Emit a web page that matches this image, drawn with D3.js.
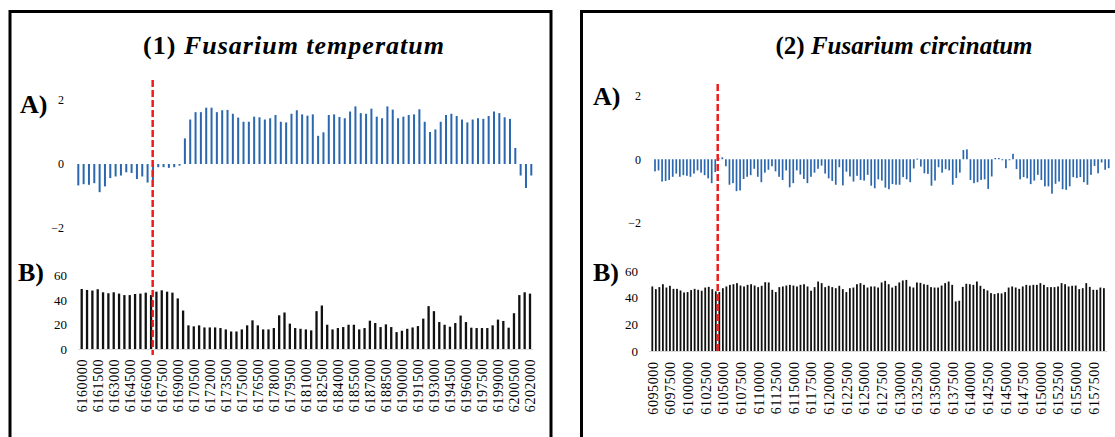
<!DOCTYPE html>
<html>
<head>
<meta charset="utf-8">
<script src="https://cdn.jsdelivr.net/npm/d3@7"></script>
<style>
  body { margin: 0; background: #fff; }
  text { font-family: "Liberation Serif", "Times New Roman", serif; fill: #000; }
</style>
</head>
<body>
<div id="chart"></div>
<script>
// Pannello (1) Fusarium temperatum
const leftPositions = d3.range(6160000, 6202001, 500);
const leftTicks = [6160000, 6161500, 6163000, 6164500, 6166000, 6167500, 6169000, 6170500, 6172000, 6173500,
  6175000, 6176500, 6178000, 6179500, 6181000, 6182500, 6184000, 6185500, 6187000, 6188500, 6190000,
  6191500, 6193000, 6194500, 6196000, 6197500, 6199000, 6200500, 6202000];
const leftA = [-0.67, -0.63, -0.65, -0.6, -0.88, -0.7, -0.44, -0.39, -0.36, -0.26, -0.28, -0.47, -0.39, -0.58, -0.52,
  -0.1, -0.1, -0.12, -0.1, -0.05,
  0.8, 1.39, 1.62, 1.62, 1.76, 1.76, 1.62, 1.68, 1.69, 1.57, 1.45, 1.32, 1.32,
  1.48, 1.46, 1.39, 1.43, 1.53, 1.32, 1.3, 1.57, 1.68, 1.55, 1.51, 1.55, 0.88, 0.99, 1.53, 1.55, 1.47, 1.43,
  1.64, 1.8, 1.59, 1.57, 1.73, 1.48, 1.43, 1.8, 1.7, 1.43,
  1.48, 1.53, 1.55, 1.71, 1.32, 1.0, 1.08, 1.32, 1.53, 1.57, 1.5, 1.39, 1.3, 1.39, 1.43, 1.41, 1.5, 1.64,
  1.59, 1.46, 1.41, 0.5, -0.36, -0.75, -0.36];
const leftB = [49, 48.2, 47.7, 48.8, 46.3, 45.5, 46.3, 45.2, 44, 44, 44.9, 45.2, 46, 44, 46.8, 47.9, 46.8, 46,
  41.3, 31.4, 19.3, 18.5, 19.3, 17.6, 17.6, 17.6, 17.1, 16, 14.3, 14.3, 16, 19.3, 23.4, 19.3, 16, 16, 17.1,
  27.5, 29.8, 20.7, 17.1, 16.5, 16, 15.2, 30.9, 35.5, 19.8, 16, 17.1, 17.9, 19.8, 19.8, 16, 17.1, 23.1, 21.2,
  17.9, 20.1, 17.9, 13.8, 14.9, 16.5, 17.6, 18.7, 24.8, 35, 30.9, 22, 19.8, 18.2, 21.2, 27.3, 22, 17.4, 17.1,
  17.1, 17.1, 19.3, 24, 22.9, 17.4, 29.2, 44, 46.3, 45.2];
const leftMarker = 6166650;

// Pannello (2) Fusarium circinatum
const rightPositions = d3.range(6095000, 6159001, 500);
const rightTicks = [6095000, 6097500, 6100000, 6102500, 6105000, 6107500, 6110000, 6112500, 6115000, 6117500,
  6120000, 6122500, 6125000, 6127500, 6130000, 6132500, 6135000, 6137500, 6140000, 6142500, 6145000,
  6147500, 6150000, 6152500, 6155000, 6157500];
const rightA = [-0.38, -0.35, -0.7, -0.68, -0.65, -0.55, -0.45, -0.55, -0.5, -0.52,
  -0.55, -0.45, -0.35, -0.42, -0.5, -0.6, -0.75, -0.4, 0.03, 0.06,
  -0.22, -0.8, -0.75, -1.0, -0.98, -0.62, -0.55, -0.5, -0.3, -0.55,
  -0.72, -0.42, -0.33, -0.22, -0.38, -0.55, -0.65, -0.35, -0.88, -0.75,
  -0.35, -0.48, -0.62, -0.75, -0.55, -0.42, -0.3, -0.2, -0.45, -0.6,
  -0.68, -0.8, -0.25,
  -0.82, -0.39, -0.54, -0.7, -0.52, -0.65, -0.67, -0.49, -0.83, -0.91,
  -0.63, -0.67, -0.89, -0.94, -0.78, -0.8, -0.8, -0.56, -0.63, -0.72,
  -0.29, 0.02, -0.23, -0.44, -0.46, -0.83, -0.67, -0.25, -0.42, -0.31,
  -0.35, -0.8, -0.59, -0.42, 0.29, 0.31, -0.65, -0.75, -0.72, -0.65,
  -0.63, -0.93, -0.54, 0.04, 0.04, -0.03, -0.28, -0.03, 0.17, -0.31,
  -0.63, -0.56, -0.6, -0.78, -0.67, -0.49, -0.65, -0.85, -0.85, -1.08,
  -0.77, -0.7, -0.94, -0.96, -0.85, -0.56, -0.59, -0.56, -0.72, -0.8,
  -0.49, -0.21, -0.44, -0.1, -0.33, -0.28];
const rightB = [48.4, 46.4, 47.9, 50.1, 47.6, 48.9, 46.6, 46.6, 45.4, 43.9,
  44.2, 45.7, 46.6, 45.9, 45.2, 47.6, 48.1, 46.4, 44.7, 44.2,
  47.1, 48.4, 49.6, 50.1, 50.9, 49.1, 48.4, 49.6, 50.1, 49.1,
  47.9, 48.9, 51.6, 51.4, 45.9, 44.2, 47.9, 48.4, 49.1, 49.6,
  49.1, 48.4, 49.6, 50.1, 48.4, 45.2, 47.9, 52.1, 50.9, 47.9,
  48.9, 47.9, 47.1,
  48.9, 46.4, 44.2, 47.1, 47.6, 50.1, 50.9, 49.6, 47.6, 48.4,
  48.4, 47.6, 51.4, 52.6, 50.1, 47.6, 48.9, 51.4, 52.9, 53.3,
  48.4, 47.6, 51.4, 51.1, 50.1, 49.6, 47.9, 47.6, 47.6, 49.1,
  50.9, 52.1, 49.6, 37.2, 37.7, 48.1, 50.4, 50.1, 49.6, 52.1,
  48.9, 46.6, 45.4, 43.4, 42.7, 43.4, 43.2, 44.2, 47.6, 48.4,
  47.6, 46.6, 48.4, 49.6, 49.1, 49.6, 49.6, 50.9, 49.6, 47.9,
  47.9, 47.9, 48.4, 50.9, 50.1, 48.4, 48.9, 49.1, 46.4, 47.1,
  50.9, 48.1, 45.9, 45.9, 47.6, 47.1];
const rightMarker = 6104270;

const ticksA = [-2, 0, 2];
const ticksB = [0, 20, 40, 60];

// Variabili di layout
const [width, height] = [1115, 437];
const blue = "#2a67ae";
const red = "#f01c1c";

const panels = [
  {
    number: "(1) ", species: "Fusarium temperatum", titleX: 294, titleSize: 26, titleSpacing: 1,
    frameX: 10, frameW: 541,
    positions: leftPositions, ticks: leftTicks, valuesA: leftA, valuesB: leftB, marker: leftMarker,
    rangeA: [78.3, 531.3], rangeB: [81.7, 530], yA: [228, 100], yB: [349, 275.5],
    axisXA: 64, axisXB: 67, labelPad: 10, barA: 2, barB: 2.3,
    labelA: [20, 113], labelB: [18, 281], markerY: [80, 355]
  },
  {
    number: "(2) ", species: "Fusarium circinatum", titleX: 904, titleSize: 25, titleSpacing: 0,
    frameX: 581.5, frameW: 620,
    positions: rightPositions, ticks: rightTicks, valuesA: rightA, valuesB: rightB, marker: rightMarker,
    rangeA: [655, 1108.7], rangeB: [652.3, 1103.9], yA: [223, 95.5], yB: [351, 271],
    axisXA: 641, axisXB: 638, labelPad: 10.5, barA: 1.7, barB: 1.8,
    labelA: [593, 105], labelB: [593, 281], markerY: [84, 352]
  }
];

const svg = d3.select("#chart")
  .append("svg")
  .attr("width", width)
  .attr("height", height);

const drawPanel = (p) => {
  const g = svg.append("g");

  // cornice
  g.append("rect")
    .attr("x", p.frameX)
    .attr("y", 11.5)
    .attr("width", p.frameW)
    .attr("height", 460)
    .attr("fill", "none")
    .attr("stroke", "#000")
    .attr("stroke-width", 3);

  // titolo
  const title = g.append("text")
    .attr("x", p.titleX)
    .attr("y", 54)
    .attr("text-anchor", "middle")
    .style("font-size", p.titleSize + "px")
    .style("font-weight", "bold")
    .style("letter-spacing", p.titleSpacing + "px");
  title.append("tspan").text(p.number);
  title.append("tspan").style("font-style", "italic").text(p.species);

  // etichette A) B)
  g.append("text").attr("x", p.labelA[0]).attr("y", p.labelA[1])
    .style("font-size", "26px").style("font-weight", "bold").text("A)");
  g.append("text").attr("x", p.labelB[0]).attr("y", p.labelB[1])
    .style("font-size", "26px").style("font-weight", "bold").text("B)");

  // scale
  const xA = d3.scaleLinear().domain([0, p.valuesA.length - 1]).range(p.rangeA);
  const yA = d3.scaleLinear().domain([-2, 2]).range(p.yA);
  const xB = d3.scaleLinear().domain(d3.extent(p.positions)).range(p.rangeB);
  const yB = d3.scaleLinear().domain([0, 60]).range(p.yB);

  // grafico A
  g.append("g").selectAll("rect")
    .data(p.valuesA)
    .join("rect")
    .attr("x", (d, i) => xA(i) - p.barA / 2)
    .attr("y", d => Math.min(yA(d), yA(0)))
    .attr("width", p.barA)
    .attr("height", d => Math.max(1, Math.abs(yA(d) - yA(0))))
    .attr("fill", blue);

  const axisA = g.append("g")
    .attr("transform", "translate(" + p.axisXA + ",0)")
    .call(d3.axisLeft(yA).tickValues(ticksA).tickSize(0).tickPadding(0).tickFormat(d3.format("d")));
  axisA.select(".domain").remove();
  axisA.selectAll("text").style("font-size", "12px").style("font-family", "Liberation Serif");

  // grafico B
  g.append("line")
    .attr("x1", p.rangeB[0] - 3.5)
    .attr("x2", p.rangeB[1] + 3.5)
    .attr("y1", yB(0) + 0.5)
    .attr("y2", yB(0) + 0.5)
    .attr("stroke", "#d9d9d9")
    .attr("stroke-width", 1);

  g.append("g").selectAll("rect")
    .data(p.valuesB)
    .join("rect")
    .attr("x", (d, i) => xB(p.positions[i]) - p.barB / 2)
    .attr("y", d => yB(d))
    .attr("width", p.barB)
    .attr("height", d => yB(0) - yB(d))
    .attr("fill", "#111");

  const axisB = g.append("g")
    .attr("transform", "translate(" + p.axisXB + ",0)")
    .call(d3.axisLeft(yB).tickValues(ticksB).tickSize(0).tickPadding(0).tickFormat(d3.format("d")));
  axisB.select(".domain").remove();
  axisB.selectAll("text").style("font-size", "13px").style("font-family", "Liberation Serif");

  const axisX = g.append("g")
    .attr("transform", "translate(0," + yB(0) + ")")
    .call(d3.axisBottom(xB).tickValues(p.ticks).tickSize(0).tickFormat(d3.format("d")));
  axisX.select(".domain").remove();
  axisX.selectAll("text")
    .attr("transform", "rotate(-90)")
    .attr("text-anchor", "end")
    .attr("x", -p.labelPad)
    .attr("y", 0)
    .attr("dy", "0.35em")
    .style("font-size", "14px")
    .style("letter-spacing", "0.6px")
    .style("font-family", "Liberation Serif");

  // linea rossa tratteggiata
  g.append("line")
    .attr("x1", xB(p.marker))
    .attr("x2", xB(p.marker))
    .attr("y1", p.markerY[0])
    .attr("y2", p.markerY[1])
    .attr("stroke", red)
    .attr("stroke-width", 2.5)
    .attr("stroke-dasharray", "7,3");
};

panels.forEach(drawPanel);
</script>
</body>
</html>
